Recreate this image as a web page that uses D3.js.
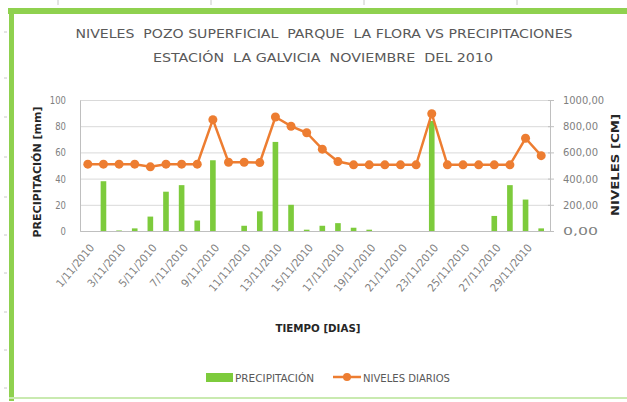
<!DOCTYPE html>
<html>
<head>
<meta charset="utf-8">
<style>
    body { margin: 0; background: #fff; }
    svg text { font-family: "Liberation Sans Narrow", "DejaVu Sans Condensed", "Roboto", sans-serif; }
    .title { fill: #595959; font-size: 12.5px; white-space: pre; }
    .axis text { fill: #7f7f7f; font-size: 11px; }
    .axis path, .axis line { stroke: #bfbfbf; }
    .grid line { stroke: #d9d9d9; }
    .grid path { display: none; }
    .atitle { font-weight: bold; font-size: 11px; fill: #262626; }
    .legend text { fill: #595959; font-size: 10.5px; }
</style>
</head>
<body>
<svg id="chart" width="627" height="402"></svg>

<script src="https://cdnjs.cloudflare.com/ajax/libs/d3/7.8.5/d3.min.js"></script>
<script>
    var dias = ['1/11/2010', '2/11/2010', '3/11/2010', '4/11/2010', '5/11/2010', '6/11/2010',
        '7/11/2010', '8/11/2010', '9/11/2010', '10/11/2010', '11/11/2010', '12/11/2010',
        '13/11/2010', '14/11/2010', '15/11/2010', '16/11/2010', '17/11/2010', '18/11/2010',
        '19/11/2010', '20/11/2010', '21/11/2010', '22/11/2010', '23/11/2010', '24/11/2010',
        '25/11/2010', '26/11/2010', '27/11/2010', '28/11/2010', '29/11/2010', '30/11/2010'];

    // precipitacion diaria [mm]
    var precipitacion = [0, 38, 0.4, 2, 11, 30, 35, 8, 54, 0, 4, 15, 68, 20, 1,
        4, 6, 2.5, 1, 0, 0, 0, 84, 0, 0, 0, 11.5, 35, 24, 2];

    // niveles diarios del pozo [cm]
    var niveles = [510, 510, 510, 510, 490, 510, 510, 510, 850, 525, 525, 522, 870, 800, 750,
        625, 530, 505, 505, 505, 505, 505, 895, 505, 505, 505, 505, 505, 708, 575];

    var ticksIzq = [0, 20, 40, 60, 80, 100];
    var ticksDer = [0, 200, 400, 600, 800, 1000];

    var svg = d3.select('#chart');

    var pLeft = 80, pRight = 550, pTop = 100, pBottom = 231;

    var x = d3.scaleBand().domain(dias).range([pLeft, pRight - 1]).padding(0);
    var yIzq = d3.scaleLinear().domain([0, 100]).range([pBottom, pTop]);
    var yDer = d3.scaleLinear().domain([0, 1000]).range([pBottom, pTop]);

    // marco verde
    svg.append('rect').attr('x', 8).attr('y', 8).attr('width', 619).attr('height', 6).attr('fill', '#8fd14f');
    svg.append('rect').attr('x', 9).attr('y', 8).attr('width', 5).attr('height', 393).attr('fill', '#8fd14f');
    svg.append('rect').attr('x', 9).attr('y', 397).attr('width', 618).attr('height', 2).attr('fill', '#c9eab0');

    // marcas grises de la hoja
    [32, 78, 117, 157, 197, 235, 273, 312, 350, 388].forEach(function(yy) {
        svg.append('line').attr('x1', 4).attr('x2', 7).attr('y1', yy).attr('y2', yy)
            .attr('stroke', '#c8c8c8');
    });
    [58, 211, 364, 517].forEach(function(xx) {
        svg.append('line').attr('x1', xx).attr('x2', xx).attr('y1', 0).attr('y2', 5)
            .attr('stroke', '#c8c8c8');
    });

    // titulo
    svg.append('text').attr('class', 'title').attr('x', 324).attr('y', 38)
        .attr('text-anchor', 'middle')
        .attr('textLength', 497).attr('lengthAdjust', 'spacingAndGlyphs')
        .text('NIVELES  POZO SUPERFICIAL  PARQUE  LA FLORA VS PRECIPITACIONES');
    svg.append('text').attr('class', 'title').attr('x', 323).attr('y', 62)
        .attr('text-anchor', 'middle')
        .attr('textLength', 340).attr('lengthAdjust', 'spacingAndGlyphs')
        .text('ESTACIÓN  LA GALVICIA  NOVIEMBRE  DEL 2010');

    // lineas de la grilla
    svg.append('g').attr('class', 'grid')
        .attr('transform', 'translate(' + pLeft + ',0)')
        .call(d3.axisLeft(yIzq).tickValues(ticksIzq).tickSize(-(pRight - pLeft)).tickFormat(''));

    // eje izquierdo
    var ejeIzq = svg.append('g').attr('class', 'axis')
        .attr('transform', 'translate(' + pLeft + ',0)')
        .call(d3.axisLeft(yIzq).tickValues(ticksIzq).tickSize(0).tickPadding(14));
    ejeIzq.select('.domain').attr('stroke', '#d9d9d9');
    ejeIzq.selectAll('text').attr('textLength', function(d) { return String(d).length * 5.4; })
        .attr('lengthAdjust', 'spacingAndGlyphs');

    // eje derecho
    var ejeDer = svg.append('g').attr('class', 'axis')
        .attr('transform', 'translate(' + pRight + ',0)')
        .call(d3.axisRight(yDer).tickValues(ticksDer).tickSize(4).tickPadding(9)
            .tickFormat(function(d) { return d3.format('.2f')(d).replace('.', ','); }));
    ejeDer.selectAll('line').attr('x1', -2);
    ejeDer.selectAll('text').attr('textLength', function(d) { return d >= 1000 ? 41 : 35; })
        .attr('lengthAdjust', 'spacingAndGlyphs');

    // barras de precipitacion
    var bw = x.bandwidth() * 0.36;
    svg.append('g').selectAll('rect')
        .data(precipitacion)
        .join('rect')
        .attr('x', function(d, i) { return x(dias[i]) + (x.bandwidth() - bw) / 2; })
        .attr('y', function(d) { return yIzq(d); })
        .attr('width', bw)
        .attr('height', function(d) { return pBottom - yIzq(d); })
        .attr('fill', '#7dcb3c');

    // eje inferior
    var ejeX = svg.append('g').attr('class', 'axis')
        .attr('transform', 'translate(0,' + pBottom + ')')
        .call(d3.axisBottom(x).tickSize(0).tickValues(dias.filter(function(d, i) { return i % 2 === 0; })));
    ejeX.select('.domain').attr('stroke', '#bfbfbf');
    ejeX.selectAll('text')
        .attr('text-anchor', 'end')
        .attr('font-size', '10px')
        .attr('fill', '#8c8c8c')
        .attr('dy', 0)
        .attr('y', 0)
        .attr('textLength', function(d) { return d.length * 5.8; })
        .attr('lengthAdjust', 'spacingAndGlyphs')
        .attr('transform', 'translate(7,17) rotate(-50)');

    // linea de niveles
    var linea = d3.line()
        .x(function(d, i) { return x(dias[i]) + x.bandwidth() / 2; })
        .y(function(d) { return yDer(d); });

    svg.append('path').datum(niveles)
        .attr('d', linea)
        .attr('fill', 'none')
        .attr('stroke', '#ed7d31')
        .attr('stroke-width', 2.5);

    svg.append('g').selectAll('circle')
        .data(niveles)
        .join('circle')
        .attr('cx', function(d, i) { return x(dias[i]) + x.bandwidth() / 2; })
        .attr('cy', function(d) { return yDer(d); })
        .attr('r', 4.5)
        .attr('fill', '#ed7d31');

    // titulos de ejes
    svg.append('text').attr('class', 'atitle')
        .attr('transform', 'translate(41,172) rotate(-90)')
        .attr('text-anchor', 'middle')
        .attr('textLength', 131).attr('lengthAdjust', 'spacingAndGlyphs')
        .text('PRECIPITACIÓN [mm]');
    svg.append('text').attr('class', 'atitle')
        .attr('transform', 'translate(619,165) rotate(-90)')
        .attr('text-anchor', 'middle')
        .attr('textLength', 102).attr('lengthAdjust', 'spacingAndGlyphs')
        .text('NIVELES [CM]');
    svg.append('text').attr('class', 'atitle')
        .attr('x', 318).attr('y', 332)
        .attr('text-anchor', 'middle')
        .attr('textLength', 85).attr('lengthAdjust', 'spacingAndGlyphs')
        .text('TIEMPO [DIAS]');

    // leyenda
    var ley = svg.append('g').attr('class', 'legend');
    ley.append('rect').attr('x', 206).attr('y', 373).attr('width', 27).attr('height', 9).attr('fill', '#7dcb3c');
    ley.append('text').attr('x', 235).attr('y', 381.5)
        .attr('textLength', 79).attr('lengthAdjust', 'spacingAndGlyphs')
        .text('PRECIPITACIÓN');
    ley.append('line').attr('x1', 333).attr('x2', 361).attr('y1', 377).attr('y2', 377)
        .attr('stroke', '#ed7d31').attr('stroke-width', 2.5);
    ley.append('circle').attr('cx', 347).attr('cy', 377).attr('r', 4).attr('fill', '#ed7d31');
    ley.append('text').attr('x', 363).attr('y', 381.5)
        .attr('textLength', 87).attr('lengthAdjust', 'spacingAndGlyphs')
        .text('NIVELES DIARIOS');
</script>
</body>
</html>
